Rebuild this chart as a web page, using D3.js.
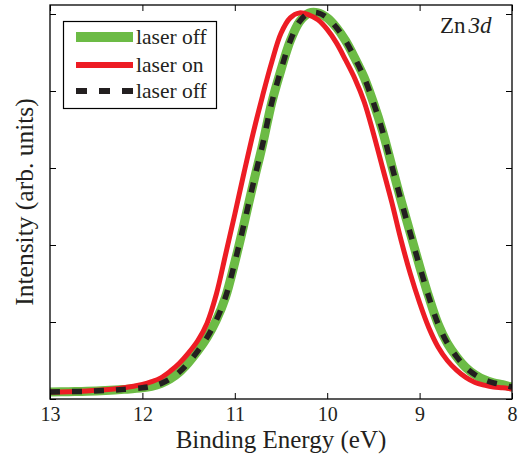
<!DOCTYPE html>
<html>
<head>
<meta charset="utf-8">
<script src="https://cdn.jsdelivr.net/npm/d3@7"></script>
<style>
  html, body { margin: 0; padding: 0; background: #fff; }
  svg { display: block; font-family: "Liberation Serif", "Times New Roman", serif; }
</style>
</head>
<body>
<svg id="chart" width="522" height="454"></svg>
<script>
// ---- data ----
const energy = [13.0, 12.8, 12.6, 12.4, 12.2, 12.0, 11.9, 11.8, 11.7, 11.6, 11.5, 11.4, 11.3, 11.2, 11.1, 11.0,
                10.9, 10.8, 10.7, 10.6, 10.5, 10.4, 10.3, 10.2, 10.1, 10.0, 9.9, 9.8, 9.7, 9.6, 9.5, 9.4,
                9.3, 9.2, 9.1, 9.0, 8.9, 8.8, 8.7, 8.6, 8.5, 8.4, 8.3, 8.2, 8.1, 8.0];
const intensityOff = [0.018, 0.019, 0.020, 0.022, 0.025, 0.029, 0.033, 0.040, 0.052, 0.070, 0.095, 0.125, 0.160, 0.205, 0.265, 0.355,
                      0.455, 0.560, 0.660, 0.770, 0.855, 0.930, 0.980, 1.002, 1.003, 0.990, 0.965, 0.930, 0.885, 0.835, 0.770, 0.695,
                      0.605, 0.515, 0.430, 0.345, 0.265, 0.195, 0.145, 0.110, 0.082, 0.063, 0.050, 0.042, 0.037, 0.031];
const intensityOn  = [0.018, 0.019, 0.021, 0.024, 0.029, 0.038, 0.045, 0.055, 0.072, 0.093, 0.120, 0.152, 0.197, 0.272, 0.375, 0.480,
                      0.588, 0.692, 0.787, 0.875, 0.950, 0.990, 1.003, 0.998, 0.985, 0.960, 0.925, 0.880, 0.832, 0.772, 0.690, 0.600,
                      0.510, 0.412, 0.325, 0.250, 0.185, 0.135, 0.100, 0.075, 0.056, 0.043, 0.036, 0.031, 0.029, 0.026];

const xTicks = [13, 12, 11, 10, 9, 8];
const yTicks = [0, 0.2, 0.4, 0.6, 0.8, 1.0];
const legendLabels = ["laser off", "laser on", "laser off"];

// ---- layout ----
const svg = d3.select("#chart");
const L = 50, R = 512, T = 5, B = 399;
const x = d3.scaleLinear().domain([13, 8]).range([L, R]);
const y = d3.scaleLinear().domain([0, 1.0234]).range([B, T]);

const green = "#6cbb45", red = "#ed1c24", black = "#231f20";

svg.append("defs").append("clipPath").attr("id", "clip")
  .append("rect").attr("x", L).attr("y", T).attr("width", R - L).attr("height", B - T);

const offData = energy.map((e, i) => [e, intensityOff[i]]);
const onData = energy.map((e, i) => [e, intensityOn[i]]);
const line = d3.line().x(d => x(d[0])).y(d => y(d[1])).curve(d3.curveCatmullRom.alpha(0.5));

const plot = svg.append("g").attr("clip-path", "url(#clip)");
plot.append("path").datum(offData).attr("d", line)
  .attr("fill", "none").attr("stroke", green).attr("stroke-width", 9);
plot.append("path").datum(onData).attr("d", line)
  .attr("fill", "none").attr("stroke", red).attr("stroke-width", 5);
plot.append("path").datum(offData).attr("d", line)
  .attr("fill", "none").attr("stroke", black).attr("stroke-width", 5.5)
  .attr("stroke-dasharray", "10,12");

// ---- axes ----
const tickLen = 6;
const axB = svg.append("g").attr("transform", `translate(0,${B})`)
  .call(d3.axisBottom(x).tickValues(xTicks).tickSizeInner(-tickLen).tickSizeOuter(0).tickFormat(d3.format("d")));
const axT = svg.append("g").attr("transform", `translate(0,${T})`)
  .call(d3.axisTop(x).tickValues(xTicks).tickSizeInner(-tickLen).tickSizeOuter(0).tickFormat(""));
const axL = svg.append("g").attr("transform", `translate(${L},0)`)
  .call(d3.axisLeft(y).tickValues(yTicks).tickSizeInner(-tickLen).tickSizeOuter(0).tickFormat(""));
const axR = svg.append("g").attr("transform", `translate(${R},0)`)
  .call(d3.axisRight(y).tickValues(yTicks).tickSizeInner(-tickLen).tickSizeOuter(0).tickFormat(""));

[axB, axT, axL, axR].forEach(a => {
  a.selectAll(".domain").remove();
  a.selectAll("line").attr("stroke", "#000").attr("stroke-width", 1);
});
axB.selectAll("text").attr("font-family", "Liberation Serif, serif").attr("font-size", 20).attr("fill", "#231f20")
  .attr("dy", null).attr("y", 22);

svg.append("rect").attr("x", L).attr("y", T).attr("width", R - L).attr("height", B - T)
  .attr("fill", "none").attr("stroke", "#000").attr("stroke-width", 1.3);

// ---- titles ----
svg.append("text").attr("x", (L + R) / 2).attr("y", 448).attr("text-anchor", "middle")
  .attr("font-size", 25).attr("fill", "#231f20").text("Binding Energy (eV)");
svg.append("text").attr("transform", `translate(33,${(T + B) / 2}) rotate(-90)`).attr("text-anchor", "middle")
  .attr("font-size", 25.5).attr("fill", "#231f20").text("Intensity (arb. units)");

const zn = svg.append("text").attr("x", 440).attr("y", 33).attr("font-size", 23).attr("fill", "#231f20");
zn.append("tspan").text("Zn");
zn.append("tspan").attr("dx", 3).attr("font-style", "italic").text("3d");

// ---- legend ----
const lg = svg.append("g");
lg.append("rect").attr("x", 63.5).attr("y", 21.5).attr("width", 153).attr("height", 87)
  .attr("fill", "#fff").attr("stroke", "#000").attr("stroke-width", 1.2);
const styles = [
  { c: green, w: 10, dash: null },
  { c: red, w: 6, dash: null },
  { c: black, w: 6, dash: "11,12" }
];
const rowsY = [37, 65, 91];
legendLabels.forEach((lab, i) => {
  const ln = lg.append("line").attr("x1", 76).attr("x2", 133).attr("y1", rowsY[i]).attr("y2", rowsY[i])
    .attr("stroke", styles[i].c).attr("stroke-width", styles[i].w);
  if (styles[i].dash) ln.attr("stroke-dasharray", styles[i].dash);
  lg.append("text").attr("x", 136).attr("y", rowsY[i] + 7).attr("font-size", 21.5).attr("fill", "#231f20").text(lab);
});
</script>
</body>
</html>
